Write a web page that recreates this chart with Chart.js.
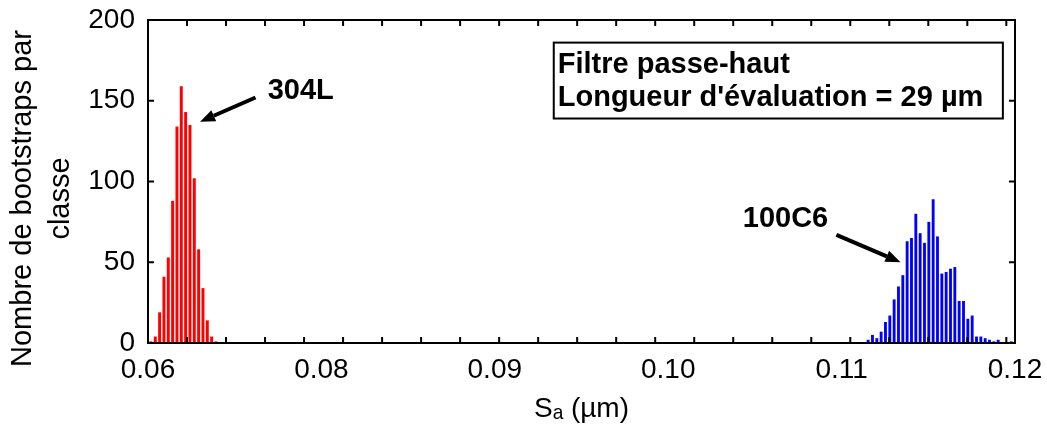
<!DOCTYPE html>
<html>
<head>
<meta charset="utf-8">
<script src="https://cdn.jsdelivr.net/npm/chart.js@4/dist/chart.umd.min.js"></script>
<style>
html, body { margin: 0; padding: 0; background: #fff; }
#wrap { width: 1047px; height: 432px; }
</style>
</head>
<body>
<div id="wrap"><canvas id="myChart" width="1047" height="432"></canvas></div>
<script>
// histogram bins (Sa, µm) and counts
const redX = [0.07017, 0.07042, 0.07067, 0.07092, 0.07117, 0.07142, 0.07167, 0.07192,
              0.07217, 0.07242, 0.07267, 0.07292, 0.07317, 0.07342, 0.07367, 0.07392];
const redCounts = [1, 4, 19, 41, 53, 88, 134, 159, 143, 135, 102, 58, 34, 14, 4, 1];

const blueX = [0.11153, 0.11178, 0.11203, 0.11228, 0.11253, 0.11278, 0.11303, 0.11328,
               0.11353, 0.11378, 0.11403, 0.11428, 0.11453, 0.11478, 0.11503, 0.11528,
               0.11553, 0.11578, 0.11603, 0.11628, 0.11653, 0.11678, 0.11703, 0.11728,
               0.11753, 0.11778, 0.11803, 0.11828, 0.11853, 0.11878, 0.11903, 0.11928,
               0.11953, 0.11978];
const blueCounts = [2, 5, 3, 7, 13, 17, 27, 35, 42, 63, 65, 80, 68, 62, 75, 89,
                    66, 43, 44, 46, 47, 26, 26, 15, 17, 4, 4, 3, 2, 1, 2, 0, 0, 1];

const xTickValues = [0.07, 0.08, 0.09, 0.10, 0.11, 0.12];
const xTickLabels = ['0.06', '0.08', '0.09', '0.10', '0.11', '0.12'];
const yTitle = ['Nombre de bootstraps par', 'classe'];
const xTitle = 'Sₐ (µm)';
const boxLines = ['Filtre passe-haut', "Longueur d'évaluation = 29 µm"];

const MINOR_STEP = 0.00225;   // spacing of the small tick marks on the x frame
const FONT = "'Liberation Sans', Arial, sans-serif";

Chart.defaults.font.family = FONT;
Chart.defaults.color = '#000';

function drawArrow(ctx, x1, y1, x2, y2) {
    var ang = Math.atan2(y2 - y1, x2 - x1);
    var head = 15, half = 6;
    var bx = x2 - head * Math.cos(ang), by = y2 - head * Math.sin(ang);
    ctx.lineWidth = 4;
    ctx.beginPath();
    ctx.moveTo(x1, y1);
    ctx.lineTo(bx, by);
    ctx.stroke();
    ctx.beginPath();
    ctx.moveTo(x2, y2);
    ctx.lineTo(bx + half * Math.sin(ang), by - half * Math.cos(ang));
    ctx.lineTo(bx - half * Math.sin(ang), by + half * Math.cos(ang));
    ctx.closePath();
    ctx.fill();
}

const frameAndNotes = {
    id: 'frameAndNotes',
    afterDraw(chart) {
        const ctx = chart.ctx;
        const a = chart.chartArea;
        const x = chart.scales.x, y = chart.scales.y;
        ctx.save();
        ctx.strokeStyle = '#000';
        ctx.fillStyle = '#000';

        // axes box
        ctx.lineWidth = 2;
        ctx.strokeRect(a.left, a.top, a.right - a.left, a.bottom - a.top);

        // inward ticks
        ctx.beginPath();
        y.ticks.forEach(function (t) {
            var py = y.getPixelForValue(t.value);
            ctx.moveTo(a.left, py); ctx.lineTo(a.left + 6, py);
            ctx.moveTo(a.right, py); ctx.lineTo(a.right - 6, py);
        });
        for (var v = x.min; v <= x.max; v += MINOR_STEP) {
            var px = x.getPixelForValue(v);
            ctx.moveTo(px, a.bottom); ctx.lineTo(px, a.bottom - 6);
            ctx.moveTo(px, a.top); ctx.lineTo(px, a.top + 6);
        }
        ctx.stroke();

        // y axis title (two lines, sits a bit below the axis middle)
        ctx.save();
        ctx.translate(23, (a.top + a.bottom) / 2 + 17);
        ctx.rotate(-Math.PI / 2);
        ctx.font = '29px ' + FONT;
        ctx.textAlign = 'center';
        ctx.textBaseline = 'middle';
        yTitle.forEach(function (line, i) { ctx.fillText(line, 0, i * 38); });
        ctx.restore();

        // arrows + labels
        drawArrow(ctx, x.getPixelForValue(0.0762), y.getPixelForValue(152),
                       x.getPixelForValue(0.0730), y.getPixelForValue(137));
        drawArrow(ctx, x.getPixelForValue(0.1097), y.getPixelForValue(67),
                       x.getPixelForValue(0.1134), y.getPixelForValue(50));
        ctx.font = 'bold 29px ' + FONT;
        ctx.textAlign = 'left';
        ctx.textBaseline = 'alphabetic';
        ctx.fillText('304L', x.getPixelForValue(0.0769), y.getPixelForValue(151));
        ctx.fillText('100C6', x.getPixelForValue(0.1043), y.getPixelForValue(72));

        // text box
        var bl = x.getPixelForValue(0.0934), br = x.getPixelForValue(0.1193);
        var bt = y.getPixelForValue(186), bb = y.getPixelForValue(139);
        ctx.fillStyle = '#fff';
        ctx.fillRect(bl, bt, br - bl, bb - bt);
        ctx.lineWidth = 2;
        ctx.strokeRect(bl, bt, br - bl, bb - bt);
        ctx.fillStyle = '#000';
        boxLines.forEach(function (line, i) {
            ctx.fillText(line, bl + 4, bt + 30 + i * 33.5);
        });
        ctx.restore();
    }
};

var ctx = document.getElementById('myChart').getContext('2d');
const histChart = new Chart(ctx, {
    type: 'bar',
    data: {
        datasets: [
            {
                label: '304L',
                data: redX.map(function (v, i) { return {x: v, y: redCounts[i]}; }),
                backgroundColor: '#ff0000',
                grouped: false,
                barPercentage: 0.68,
                categoryPercentage: 1
            },
            {
                label: '100C6',
                data: blueX.map(function (v, i) { return {x: v, y: blueCounts[i]}; }),
                backgroundColor: '#0000ff',
                grouped: false,
                barPercentage: 0.66,
                categoryPercentage: 1
            }
        ]
    },
    options: {
        responsive: false,
        animation: false,
        events: [],
        layout: { padding: { left: 0, right: 32, top: 20, bottom: 0 } },
        plugins: {
            legend: { display: false },
            tooltip: { enabled: false }
        },
        scales: {
            x: {
                type: 'linear',
                min: 0.07,
                max: 0.12,
                offset: false,
                grid: { display: false, drawTicks: false },
                border: { display: false },
                afterBuildTicks: function (s) {
                    s.ticks = xTickValues.map(function (v) { return {value: v}; });
                },
                afterFit: function (s) {
                    s.height = 89;
                    s.paddingLeft = 0;
                    s.paddingRight = 0;
                },
                ticks: {
                    autoSkip: false,
                    maxRotation: 0,
                    padding: 10,
                    font: { size: 28 },
                    callback: function (value, index) { return xTickLabels[index]; }
                },
                title: {
                    display: true,
                    text: xTitle,
                    font: { size: 28 },
                    padding: { top: 0, bottom: 6 }
                }
            },
            y: {
                min: 0,
                max: 200,
                grid: { display: false, drawTicks: false },
                border: { display: false },
                afterFit: function (s) {
                    s.width = 148;
                    s.paddingTop = 0;
                    s.paddingBottom = 0;
                },
                ticks: {
                    stepSize: 50,
                    padding: 13,
                    font: { size: 28 }
                }
            }
        }
    },
    plugins: [frameAndNotes]
});
</script>
</body>
</html>
